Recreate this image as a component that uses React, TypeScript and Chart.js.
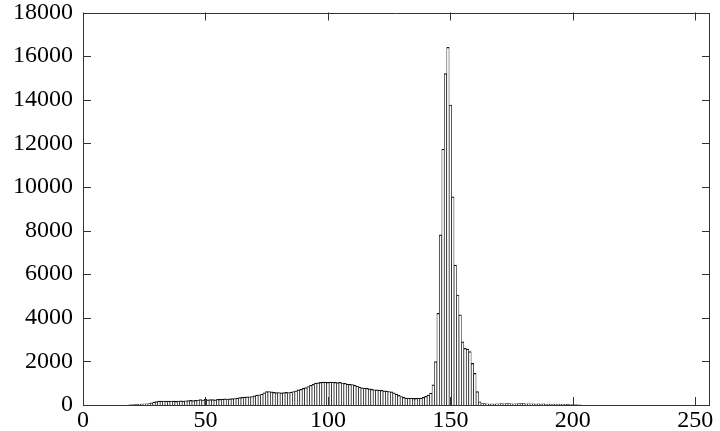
import React, { useEffect, useRef } from "react";
import { Chart, registerables } from "chart.js";

Chart.register(...registerables);

// Histogram bins: grey levels 0..255
const bins: number[] = Array.from({ length: 256 }, (_, i) => i);

// Pixel counts per grey level
const counts: number[] = [
  // 0-19
  0, 0, 0, 0, 0, 0, 0, 0, 0, 0, 0, 0, 0, 0, 0, 0, 0, 0, 0, 10,
  // 20-39
  15, 20, 25, 30, 40, 50, 55, 70, 100, 130, 160, 175, 180, 185, 180, 175, 185, 180, 170, 185,
  // 40-59
  190, 180, 195, 200, 210, 200, 215, 230, 250, 230, 255, 240, 250, 245, 240, 255, 260, 270, 280, 275,
  // 60-79
  285, 290, 300, 320, 335, 350, 360, 370, 380, 390, 420, 450, 470, 500, 560, 610, 620, 600, 580, 570,
  // 80-99
  575, 560, 570, 580, 575, 590, 620, 650, 690, 720, 760, 800, 850, 900, 950, 1000, 1020, 1040, 1050, 1050,
  // 100-119
  1040, 1050, 1045, 1040, 1030, 1035, 1010, 990, 960, 950, 940, 900, 860, 820, 790, 770, 760, 740, 720, 700,
  // 120-139
  690, 680, 670, 650, 640, 620, 600, 560, 500, 440, 390, 350, 320, 310, 310, 305, 305, 310, 320, 350,
  // 140-159
  400, 450, 550, 920, 1990, 4200, 7800, 11730, 15200, 16400, 13760, 9550, 6420, 5045, 4130, 2900, 2600, 2560, 2450, 1910,
  // 160-179
  1450, 610, 150, 60, 60, 50, 45, 50, 45, 50, 55, 60, 55, 65, 60, 55, 50, 55, 60, 65,
  // 180-199
  60, 55, 50, 55, 50, 45, 50, 45, 50, 45, 40, 45, 40, 35, 40, 35, 30, 30, 25, 20,
  // 200-219
  20, 15, 10, 5, 0, 0, 0, 0, 0, 0, 0, 0, 0, 0, 0, 0, 0, 0, 0, 0,
  // 220-239
  0, 0, 0, 0, 0, 0, 0, 0, 0, 0, 0, 0, 0, 0, 0, 0, 0, 0, 0, 0,
  // 240-255
  0, 0, 0, 0, 0, 0, 0, 0, 0, 0, 0, 0, 0, 0, 0, 0,
];

const xTicks: number[] = [0, 50, 100, 150, 200, 250];
const yTicks: number[] = [0, 2000, 4000, 6000, 8000, 10000, 12000, 14000, 16000, 18000];

const FONT = "'Liberation Serif', 'Times New Roman', serif";
const FRAME = "#333333";
const TICK_LEN = 8;

const frameTicks = {
  id: "frameTicks",
  afterDatasetsDraw(chart: any) {
    const { ctx, chartArea, scales } = chart;
    const { left, right, top, bottom } = chartArea;
    const xs = scales.x;
    const ys = scales.y;
    ctx.save();
    ctx.strokeStyle = FRAME;
    ctx.lineWidth = 1;
    ctx.beginPath();
    ctx.rect(Math.round(left) + 0.5, Math.round(top) + 0.5, Math.round(right - left) - 1, Math.round(bottom - top) - 1);
    ctx.stroke();
    ctx.beginPath();
    xTicks.forEach((v) => {
      const px = Math.round(xs.getPixelForValue(v)) + 0.5;
      ctx.moveTo(px, bottom);
      ctx.lineTo(px, bottom - TICK_LEN);
      ctx.moveTo(px, top);
      ctx.lineTo(px, top + TICK_LEN);
    });
    yTicks.forEach((v) => {
      const py = Math.round(ys.getPixelForValue(v)) + 0.5;
      ctx.moveTo(left, py);
      ctx.lineTo(left + TICK_LEN, py);
      ctx.moveTo(right, py);
      ctx.lineTo(right - TICK_LEN, py);
    });
    ctx.stroke();
    ctx.restore();
  },
};

export default function App() {
  const canvasRef = useRef<HTMLCanvasElement | null>(null);

  useEffect(() => {
    const canvas = canvasRef.current;
    if (!canvas) return;
    const chart = new Chart(canvas, {
      type: "bar",
      data: {
        datasets: [
          {
            data: bins.map((b, i) => ({ x: b, y: counts[i] })),
            backgroundColor: "#ffffff",
            borderColor: "#111111",
            borderWidth: { top: 1.2, left: 0.7, right: 0.7, bottom: 0 },
            borderSkipped: false,
            barPercentage: 1,
            categoryPercentage: 1,
          },
        ],
      },
      options: {
        animation: false,
        responsive: true,
        maintainAspectRatio: false,
        layout: { padding: { top: 12.5, right: 10, left: 0, bottom: 0 } },
        plugins: {
          legend: { display: false },
          tooltip: { enabled: false },
        },
        scales: {
          x: {
            type: "linear",
            min: 0,
            max: 256,
            offset: false,
            afterBuildTicks: (scale: any) => {
              scale.ticks = xTicks.map((v) => ({ value: v }));
            },
            afterFit: (scale: any) => {
              scale.height = 26;
              scale.paddingLeft = 0;
              scale.paddingRight = 0;
            },
            grid: { display: false, drawTicks: false },
            border: { display: false },
            ticks: {
              padding: 1,
              color: "#000",
              maxRotation: 0,
              autoSkip: false,
              font: { family: FONT, size: 24 },
            },
          },
          y: {
            type: "linear",
            min: 0,
            max: 18000,
            afterBuildTicks: (scale: any) => {
              scale.ticks = yTicks.map((v) => ({ value: v }));
            },
            afterFit: (scale: any) => {
              scale.width = 83;
              scale.paddingTop = 0;
              scale.paddingBottom = 0;
            },
            grid: { display: false, drawTicks: false },
            border: { display: false },
            ticks: {
              padding: 10,
              color: "#000",
              autoSkip: false,
              font: { family: FONT, size: 24 },
              callback: (v: any) => String(v),
            },
          },
        },
      },
      plugins: [frameTicks],
    });
    return () => chart.destroy();
  }, []);

  return (
    <div style={{ position: "fixed", left: 0, top: 0, width: 720, height: 431, background: "#fff" }}>
      <canvas ref={canvasRef} />
    </div>
  );
}
